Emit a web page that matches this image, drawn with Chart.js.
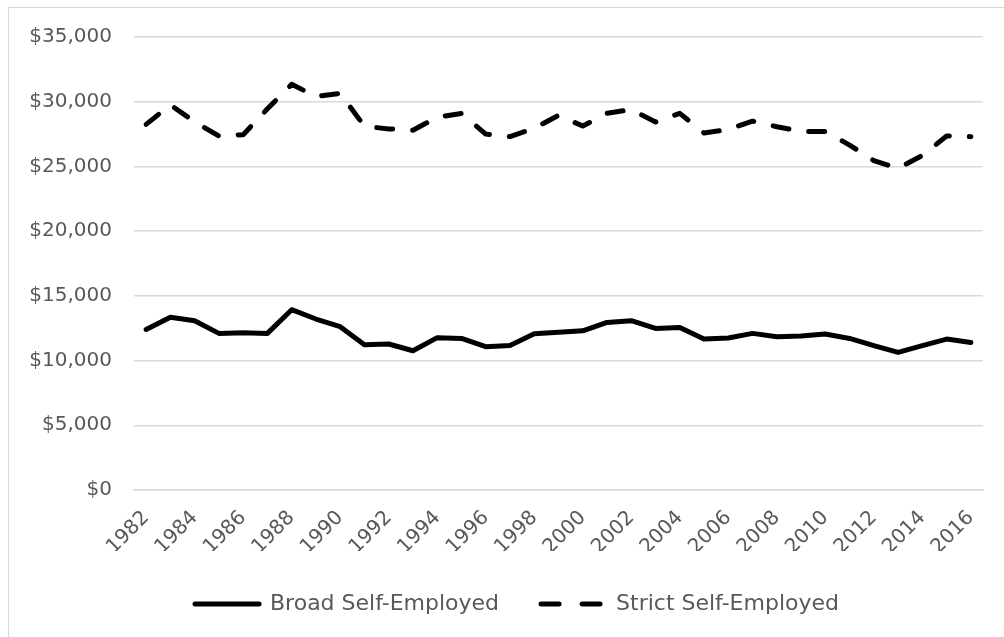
<!DOCTYPE html>
<html>
<head>
<meta charset="utf-8">
<script src="https://cdn.jsdelivr.net/npm/chart.js@4.4.1/dist/chart.umd.min.js"></script>
<style>
  html, body { margin: 0; padding: 0; background: #fff; overflow: hidden; }
  #frame { position: absolute; left: 8px; top: 7px; width: 1100px; height: 700px; border: 1.5px solid #d9d9d9; }
  #wrap { position: absolute; left: 0; top: 0; width: 1014px; height: 637px; }
</style>
</head>
<body>
<div id="frame"></div>
<div id="wrap"><canvas id="incomeChart"></canvas></div>
<script>
// dados
const years = ['1982','1983','1984','1985','1986','1987','1988','1989','1990','1991','1992','1993',
  '1994','1995','1996','1997','1998','1999','2000','2001','2002','2003','2004','2005','2006','2007',
  '2008','2009','2010','2011','2012','2013','2014','2015','2016'];

const broadSelfEmployed = [12400, 13350, 13080, 12100, 12150, 12100, 13930, 13210, 12620, 11220, 11280, 10760,
  11770, 11710, 11070, 11170, 12080, 12180, 12300, 12950, 13080, 12480, 12560, 11660, 11740, 12100,
  11840, 11890, 12050, 11710, 11150, 10630, 11150, 11660, 11400];

const strictSelfEmployed = [28250, 29750, 28450, 27350, 27450, 29450, 31350, 30400, 30650, 28100, 27900, 27800,
  28800, 29100, 27500, 27300, 27950, 28950, 28120, 29100, 29400, 28430, 29100, 27580, 27850, 28500,
  28070, 27700, 27700, 26650, 25450, 24850, 25850, 27350, 27300];

const yTicks = [0, 5000, 10000, 15000, 20000, 25000, 30000, 35000];

const gray = '#595959';
const gridGray = '#d9d9d9';
Chart.defaults.font.family = '"DejaVu Sans", sans-serif';
Chart.defaults.color = gray;

const ctx = document.getElementById('incomeChart').getContext('2d');

new Chart(ctx, {
    type: 'line',
    data: {
        labels: years,
        datasets: [{
            label: 'Broad Self-Employed',
            data: broadSelfEmployed,
            borderColor: '#000',
            backgroundColor: '#000',
            borderWidth: 5,
            borderJoinStyle: 'round',
            borderCapStyle: 'round',
            pointRadius: 0,
            tension: 0
        }, {
            label: 'Strict Self-Employed',
            data: strictSelfEmployed,
            borderColor: '#000',
            backgroundColor: '#000',
            borderWidth: 5,
            borderDash: [16, 20],
            borderJoinStyle: 'round',
            borderCapStyle: 'round',
            pointRadius: 0,
            tension: 0
        }]
    },
    options: {
        responsive: true,
        maintainAspectRatio: false,
        animation: false,
        layout: {
            padding: { left: 20, right: 0, top: 37, bottom: 12 }
        },
        plugins: {
            tooltip: { enabled: false },
            legend: {
                position: 'bottom',
                align: 'center',
                labels: {
                    usePointStyle: true,
                    pointStyle: 'line',
                    pointStyleWidth: 64,
                    boxWidth: 64,
                    padding: 42,
                    color: gray,
                    font: { size: 22 },
                    // o estilo de ponto nao traz o tracejado, entao copia do dataset
                    generateLabels: function (chart) {
                        const items = Chart.defaults.plugins.legend.labels.generateLabels(chart);
                        items.forEach(function (item, i) {
                            item.lineWidth = 5;
                            item.lineCap = 'round';
                            item.strokeStyle = '#000';
                            item.lineDash = chart.data.datasets[i].borderDash ? [18, 23] : [];
                        });
                        return items;
                    }
                }
            }
        },
        scales: {
            x: {
                offset: true,
                grid: { display: false, drawTicks: false },
                border: { display: true, color: gridGray, width: 1.5 },
                ticks: {
                    autoSkip: false,
                    minRotation: 45,
                    maxRotation: 45,
                    padding: 16,
                    font: { size: 20 },
                    color: gray,
                    callback: function (value, index) {
                        return index % 2 === 0 ? years[index] : '';
                    }
                },
                afterFit: function (scale) { scale.height = 61; }
            },
            y: {
                min: 0,
                max: 35000,
                afterBuildTicks: function (scale) {
                    scale.ticks = yTicks.map(v => ({ value: v }));
                },
                grid: { color: gridGray, lineWidth: 1.5, drawTicks: false },
                border: { display: false },
                ticks: {
                    padding: 22,
                    font: { size: 20 },
                    color: gray,
                    callback: function (value) {
                        return '$' + value.toLocaleString('en-US');
                    }
                },
                afterFit: function (scale) { scale.width = 114; }
            },
            // eixo vazio so para reservar a margem direita
            yRight: {
                type: 'linear',
                position: 'right',
                grid: { display: false, drawTicks: false },
                border: { display: false },
                ticks: { display: false },
                afterFit: function (scale) { scale.width = 31; }
            }
        }
    }
});
</script>
</body>
</html>
